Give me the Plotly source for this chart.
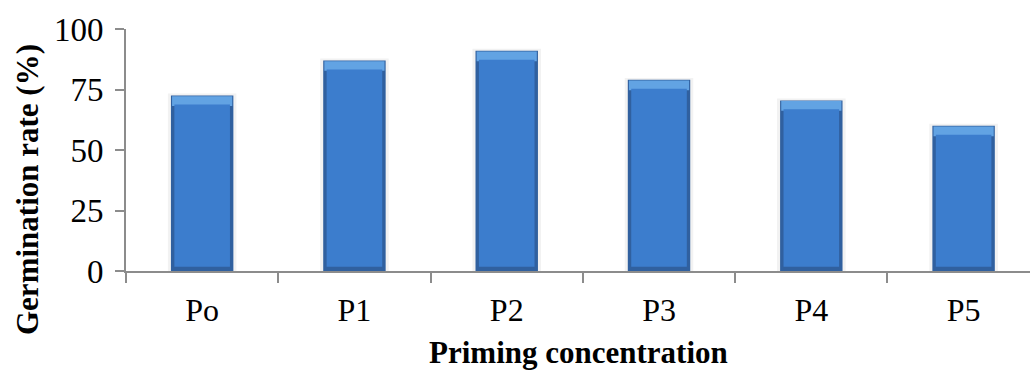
import plotly.graph_objects as go

categories = ["Po", "P1", "P2", "P3", "P4", "P5"]
germination_rate = [72.5, 87, 91, 79, 70.5, 60]
y_ticks = [0, 25, 50, 75, 100]

fig = go.Figure()
# faint halo
fig.add_trace(go.Bar(
    x=categories, y=[v + 0.8 for v in germination_rate], width=0.45,
    marker=dict(color="#f2f2f2", line=dict(width=0)),
    hoverinfo="skip", showlegend=False,
))
# dark outer bevel
fig.add_trace(go.Bar(
    x=categories, y=germination_rate, width=0.41,
    marker=dict(color="#30609f", line=dict(width=0)),
    hoverinfo="skip", showlegend=False,
))
# light top bevel
fig.add_trace(go.Bar(
    x=categories, y=[4.0] * len(categories), base=[v - 4.3 for v in germination_rate], width=0.395,
    marker=dict(color="#62a3e3", line=dict(width=0)),
    hoverinfo="skip", showlegend=False,
))
# main face
fig.add_trace(go.Bar(
    x=categories, y=[v - 5.5 for v in germination_rate], base=1.8, width=0.365,
    marker=dict(color="#3c7dcd", line=dict(width=0)),
    hoverinfo="skip", showlegend=False,
))

fig.update_layout(
    width=1030, height=371,
    margin=dict(l=126, r=0, t=29, b=100),
    paper_bgcolor="white", plot_bgcolor="white",
    font=dict(family="Liberation Serif", color="black"),
    barmode="overlay",
    annotations=[
        dict(text="<b>Germination rate (%)</b>", textangle=-90,
             xref="paper", yref="paper", x=(27 - 126) / 904, y=(271 - 190) / 242,
             xanchor="center", yanchor="middle", showarrow=False,
             font=dict(size=31, family="Liberation Serif", color="black")),
        dict(text="<b>Priming concentration</b>",
             xref="paper", yref="paper", x=0.5, y=(271 - 352) / 242,
             xanchor="center", yanchor="middle", showarrow=False,
             font=dict(size=31, family="Liberation Serif", color="black")),
    ],
)
fig.update_xaxes(
    type="category", range=[-0.5, 5.436],
    showline=True, linecolor="#8c8c8c", linewidth=2,
    ticks="outside", tickson="boundaries", ticklen=10, tickcolor="#8c8c8c", tickwidth=2,
    tickfont=dict(size=32, family="Liberation Serif"), ticklabelstandoff=10,
    showgrid=False, zeroline=False,
)
fig.update_yaxes(
    range=[0, 100], tickvals=y_ticks,
    showline=True, linecolor="#8c8c8c", linewidth=2,
    ticks="outside", ticklen=9, tickcolor="#8c8c8c", tickwidth=2,
    tickfont=dict(size=33, family="Liberation Serif"), ticklabelstandoff=5,
    showgrid=False, zeroline=False,
)

fig.write_html("out.html", config={"displayModeBar": False})
